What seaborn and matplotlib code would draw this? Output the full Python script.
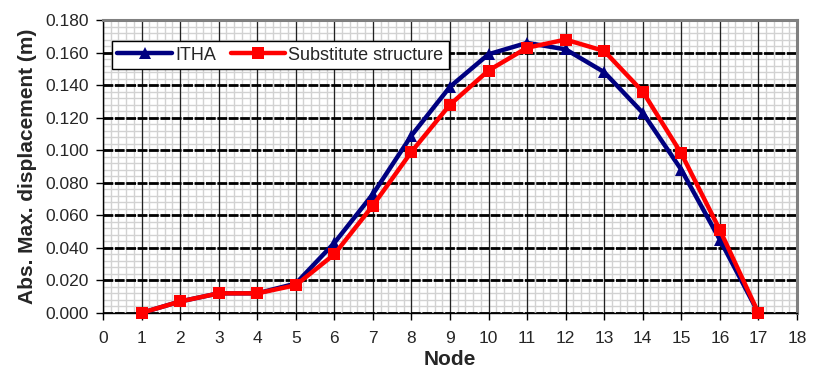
import matplotlib
matplotlib.use("Agg")
import matplotlib.pyplot as plt
from matplotlib.ticker import MultipleLocator, FormatStrFormatter, NullFormatter
import seaborn as sns
import pandas as pd

nodes = [1, 2, 3, 4, 5, 6, 7, 8, 9, 10, 11, 12, 13, 14, 15, 16, 17]
itha = [0.000, 0.007, 0.012, 0.012, 0.018, 0.043, 0.073, 0.109, 0.139, 0.159,
        0.166, 0.162, 0.148, 0.123, 0.088, 0.045, 0.000]
substitute = [0.000, 0.007, 0.012, 0.012, 0.017, 0.036, 0.066, 0.099, 0.128, 0.149,
              0.163, 0.168, 0.161, 0.136, 0.098, 0.051, 0.000]
series_names = ["ITHA", "Substitute structure"]

sns.set_style("white")
plt.rcParams["font.family"] = ["Liberation Sans", "DejaVu Sans"]

df = pd.concat([
    pd.DataFrame({"Node": nodes, "disp": itha, "series": series_names[0]}),
    pd.DataFrame({"Node": nodes, "disp": substitute, "series": series_names[1]}),
])

rect = [0.124, 0.159, 0.835, 0.787]
fig = plt.figure(figsize=(8.31, 3.72), dpi=100)

# background axes: minor grid only
ax_bg = fig.add_axes(rect, zorder=0)
ax_bg.set_xlim(0, 18)
ax_bg.set_ylim(0, 0.18)
ax_bg.xaxis.set_major_locator(MultipleLocator(0.2))
ax_bg.yaxis.set_major_locator(MultipleLocator(0.004))
ax_bg.xaxis.set_major_formatter(NullFormatter())
ax_bg.yaxis.set_major_formatter(NullFormatter())
ax_bg.tick_params(length=0)
ax_bg.grid(True, color="#d2d2d2", linewidth=1.0)
for s in ax_bg.spines.values():
    s.set_visible(False)

ax = fig.add_axes(rect, zorder=1)
ax.patch.set_alpha(0)

sns.lineplot(data=df, x="Node", y="disp", hue="series", style="series",
             palette={series_names[0]: "#000080", series_names[1]: "#ff0000"},
             markers={series_names[0]: "^", series_names[1]: "s"},
             dashes=False, linewidth=3.2, markersize=9, markeredgewidth=0,
             ax=ax, zorder=5, clip_on=False)

ax.set_xlim(0, 18)
ax.set_ylim(0, 0.18)
ax.xaxis.set_major_locator(MultipleLocator(1))
ax.yaxis.set_major_locator(MultipleLocator(0.02))
ax.yaxis.set_major_formatter(FormatStrFormatter("%.3f"))

ax.grid(False)
ax.grid(which="major", axis="x", color="#222222", linewidth=0.9)
ax.grid(which="major", axis="y", color="black", linewidth=2.0,
        linestyle=(0, (3.5, 0.6)))
ax.set_axisbelow(True)

ax.tick_params(axis="both", which="major", labelsize=12.5, length=5, width=1,
               direction="out", color="black", left=True, bottom=True)
ax.tick_params(axis="x", pad=8)
ax.tick_params(axis="y", pad=5)

for s in ["top", "right"]:
    ax.spines[s].set_color("#808080")
    ax.spines[s].set_linewidth(2.2)
for s in ["left", "bottom"]:
    ax.spines[s].set_color("black")
    ax.spines[s].set_linewidth(1.0)

ax.set_xlabel("Node", fontsize=15, fontweight="bold", labelpad=3)
ax.set_ylabel("Abs. Max. displacement (m)", fontsize=15, fontweight="bold", labelpad=6)

handles, labels = ax.get_legend_handles_labels()
leg = ax.legend(handles, labels, loc="upper left", bbox_to_anchor=(0.013, 0.928),
                ncol=2, fontsize=13, frameon=True, fancybox=False, shadow=False,
                handlelength=3.0, handletextpad=0.2, columnspacing=0.8,
                borderpad=0.3, borderaxespad=0)
leg.get_frame().set_edgecolor("black")
leg.get_frame().set_linewidth(1.0)
leg.get_frame().set_alpha(1)
leg.set_zorder(10)

fig.savefig("out.png", dpi=100)
